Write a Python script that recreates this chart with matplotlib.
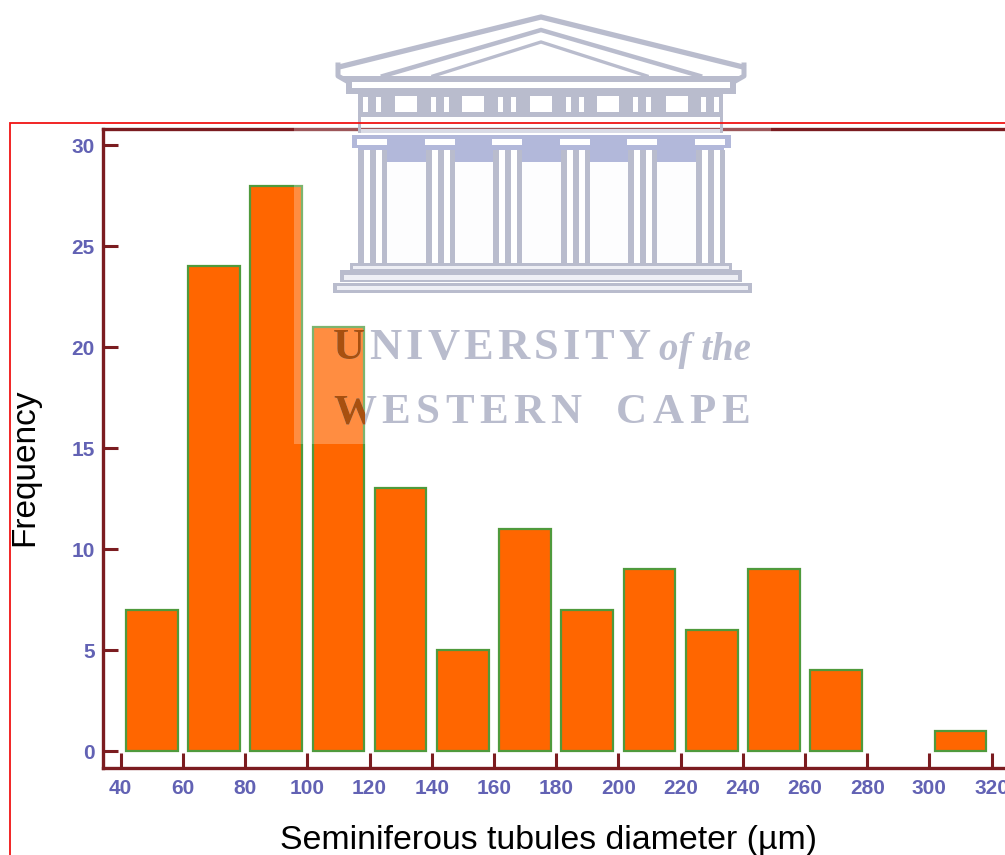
import matplotlib
matplotlib.use("Agg")
import matplotlib.pyplot as plt
from matplotlib.patches import Rectangle

# histogram values
bin_centers = [50, 70, 90, 110, 130, 150, 170, 190, 210, 230, 250, 270, 290, 310]
frequency = [7, 24, 28, 21, 13, 5, 11, 7, 9, 6, 9, 4, 0, 1]
x_ticks = list(range(40, 321, 20))
y_ticks = [0, 5, 10, 15, 20, 25, 30]

W, H = 1005, 855
AXIS_COLOR = "#7b1c20"
TICK_COLOR = "#6262b4"
LOGO_COLOR = "#b9bccd"
LOGO_BAND = "#b2b8da"

plt.rcParams["font.family"] = ["Liberation Sans", "DejaVu Sans"]

fig = plt.figure(figsize=(W / 100, H / 100), dpi=100, facecolor="white")

# --- main chart, axes box placed in image pixels ---
left, right, top, bottom = 103, 1005, 129, 768
ax = fig.add_axes([left / W, 1 - bottom / H, (right - left) / W, (bottom - top) / H])
# empty bins get no bar at all, not even an outline
shown = [(c, f) for c, f in zip(bin_centers, frequency) if f > 0]
ax.bar([s[0] for s in shown], [s[1] for s in shown], width=16.6, color="#ff6600",
       edgecolor="#4f9a3c", linewidth=1.6)
ax.set_xlim(34.3, 324.3)
ax.set_ylim(-0.84, 30.8)
ax.set_xticks(x_ticks)
ax.set_yticks(y_ticks)
ax.tick_params(axis="x", direction="in", length=11, width=2.2, color=AXIS_COLOR, pad=8,
               labelsize=15, labelcolor=TICK_COLOR)
ax.tick_params(axis="y", direction="in", length=11, width=2.2, color=AXIS_COLOR, pad=6,
               labelsize=15, labelcolor=TICK_COLOR)
for lab in ax.get_xticklabels() + ax.get_yticklabels():
    lab.set_fontweight("bold")
    lab.set_clip_on(False)
for side in ["left", "top", "bottom"]:
    ax.spines[side].set_color(AXIS_COLOR)
    ax.spines[side].set_linewidth(2.4)
ax.spines["right"].set_visible(False)

# --- overlay in pixel coordinates: border, watermark, axis titles ---
ov = fig.add_axes([0, 0, 1, 1], facecolor="none")
ov.set_xlim(0, W)
ov.set_ylim(H, 0)
ov.axis("off")

ov.plot([10, 10, W], [H, 123, 123], color="#f01414", lw=1.3, solid_joinstyle="miter")
ov.text(548, 840, "Seminiferous tubules diameter (µm)", fontsize=24.4, color="black",
        ha="center", va="center")
ov.text(25, 467, "Frequency", fontsize=24, color="black", rotation=90, ha="center", va="center")

# pale watermark sheet that washes out what lies under it
ov.add_patch(Rectangle((294, 0), 477, 444, facecolor="white", alpha=0.26, edgecolor="none"))


def box(x0, y0, x1, y1, color=LOGO_COLOR):
    ov.add_patch(Rectangle((x0, y0), x1 - x0, y1 - y0, facecolor=color, edgecolor="none"))


# pediment
ov.plot([339, 541, 743], [67, 17, 67], color=LOGO_COLOR, lw=3.8, solid_joinstyle="miter")
ov.plot([383, 541, 700], [76, 30, 76], color=LOGO_COLOR, lw=3.2, solid_joinstyle="miter")
ov.plot([433, 541, 647], [76, 42, 76], color=LOGO_COLOR, lw=2.4, solid_joinstyle="miter")
ov.plot([338, 338, 345], [65, 76, 80], color=LOGO_COLOR, lw=3.6)
ov.plot([744, 744, 737], [65, 76, 80], color=LOGO_COLOR, lw=3.6)
box(343, 76, 739, 80)
box(346, 80, 736, 82)
box(346, 88, 736, 94)
box(346, 82, 352, 88)
box(730, 82, 736, 88)

# frieze with windows and slits
box(358, 94, 723, 117)
for cx in [406, 473, 541, 608, 677]:
    box(cx - 11, 96, cx + 11, 112, "white")
column_x = [372, 440, 507, 575, 642, 710]
for cx in column_x:
    box(cx - 9, 97, cx - 4, 112, "white")
    box(cx + 4, 97, cx + 9, 112, "white")
box(358, 117, 361, 133)
box(720, 117, 723, 133)
box(361, 129, 720, 133, "#d9dbe6")

# capital band and columns
box(352, 135, 731, 148, LOGO_BAND)
box(358, 148, 724, 162, LOGO_BAND)
for cx in column_x:
    box(cx - 15, 139, cx + 15, 145, "white")
    box(cx - 14, 150, cx + 15, 263)
    box(cx - 8, 150, cx - 2, 263, "white")
    box(cx + 4, 150, cx + 10, 263, "white")
for i in range(len(column_x) - 1):
    box(column_x[i] + 15, 162, column_x[i + 1] - 14, 263, "#fdfdfe")

# steps
box(350, 263, 732, 270)
box(353, 266, 729, 269, "#eeeff5")
box(340, 270, 742, 282)
box(344, 275, 738, 280, "#eeeff5")
box(333, 283, 752, 293)
box(337, 286, 748, 290, "#eeeff5")


def spaced_text(x, y, s, width, clip=None, **kw):
    # place letters one by one so the line fills the given pixel width
    r = fig.canvas.get_renderer()
    probes = [ov.text(0, 0, c if c != " " else "n", **kw) for c in s]
    widths = [p.get_window_extent(r).width for p in probes]
    for p in probes:
        p.remove()
    gap = (width - sum(widths)) / (len(s) - 1)
    for c, w in zip(s, widths):
        if c != " ":
            ov.text(x, y, c, ha="left", va="baseline", **kw)
            if clip is not None:
                t = ov.text(x, y, c, ha="left", va="baseline", **{**kw, "color": "#a8500f"})
                t.set_clip_on(True)
                t.set_clip_path(clip)
        x += w + gap


bar_clip = Rectangle((312, 328), 53, 116, transform=ov.transData)
serif = dict(family="Liberation Serif", fontweight="bold", color=LOGO_COLOR)
spaced_text(333, 359, "UNIVERSITY", 317, clip=bar_clip, fontsize=32, **serif)
spaced_text(333, 423, "WESTERN CAPE", 417, clip=bar_clip, fontsize=31, **serif)
ov.text(659, 360, "of the", family="Liberation Serif", style="italic", fontweight="bold",
        fontsize=28, color=LOGO_COLOR, ha="left", va="baseline")

fig.savefig("out.png", dpi=100)
